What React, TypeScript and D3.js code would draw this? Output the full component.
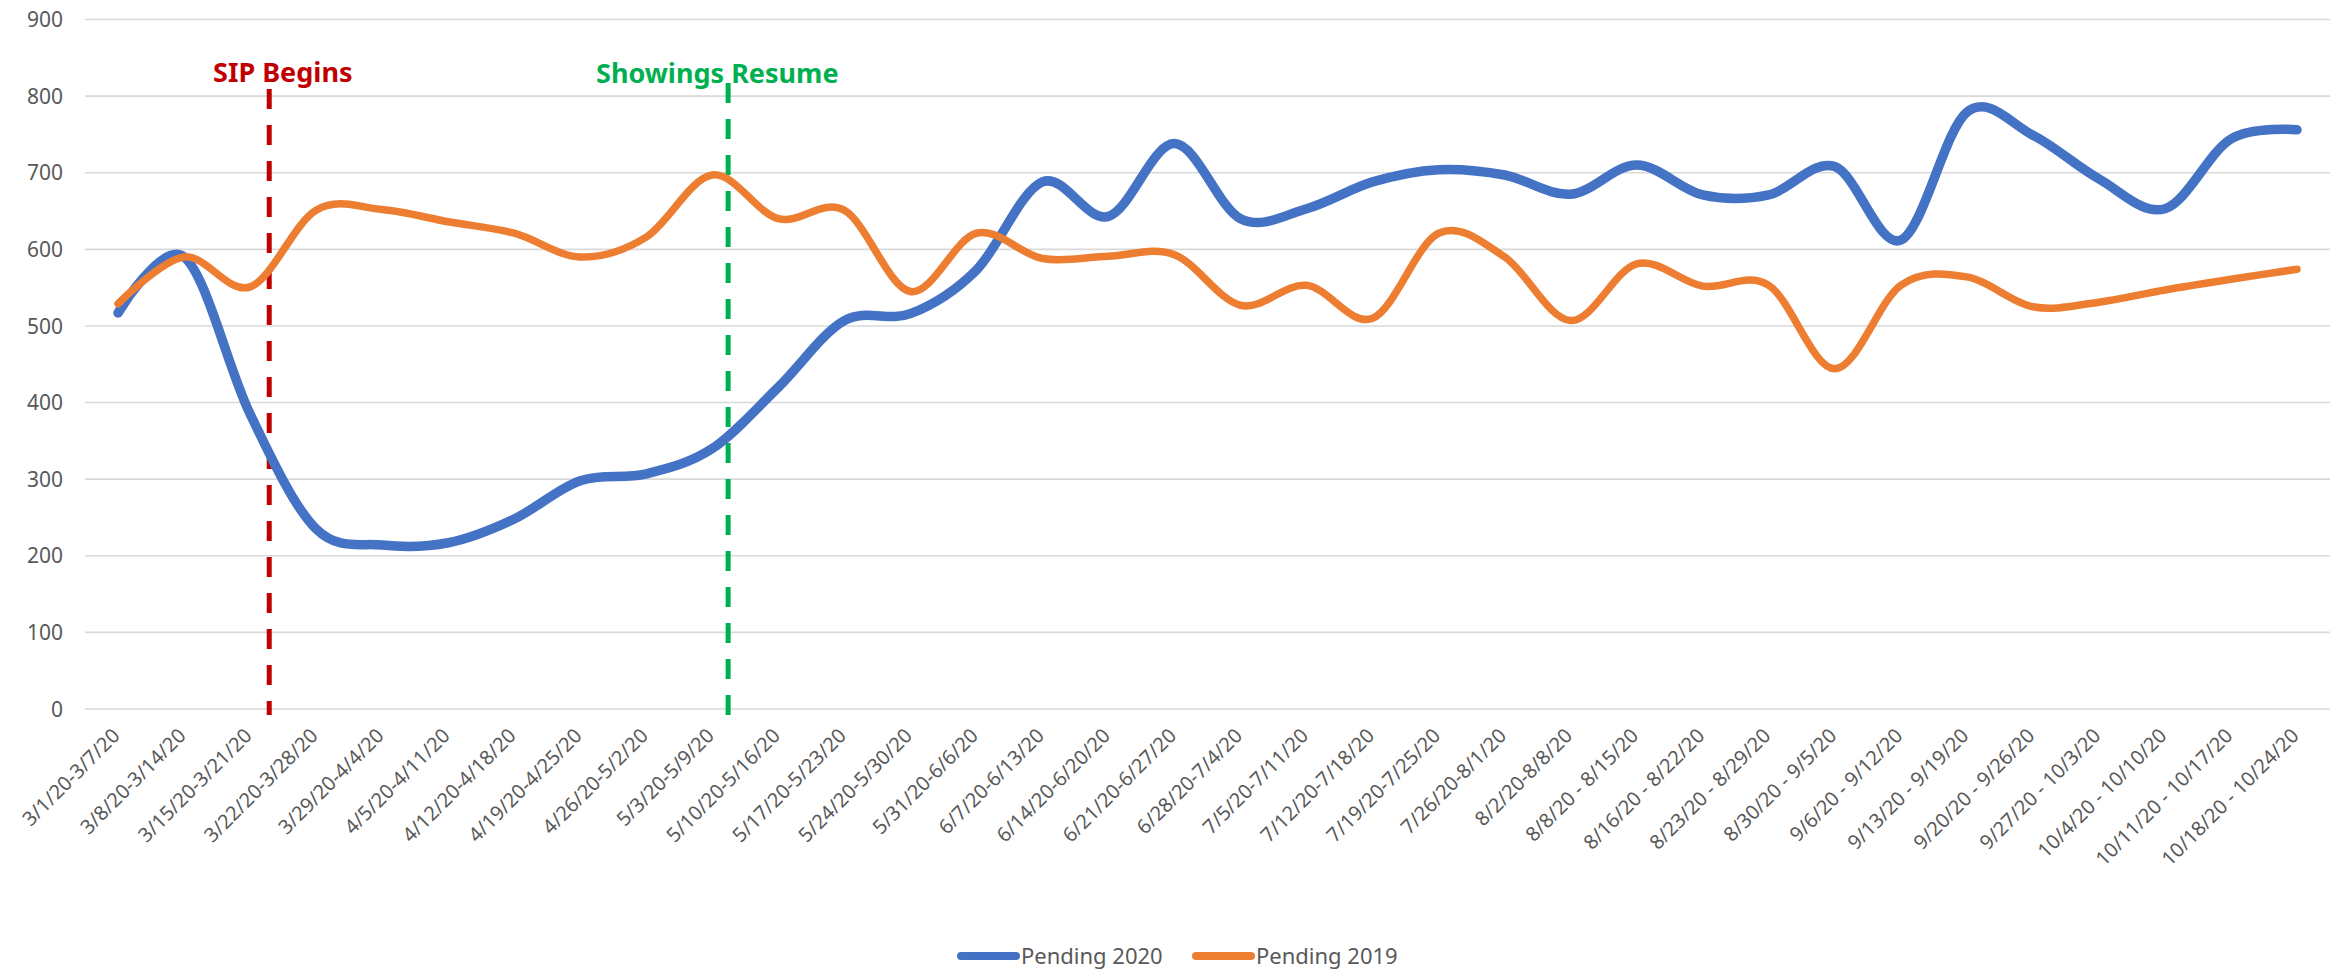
import React from "react";
import * as d3 from "d3";

const categories = [
  "3/1/20-3/7/20", "3/8/20-3/14/20", "3/15/20-3/21/20", "3/22/20-3/28/20",
  "3/29/20-4/4/20", "4/5/20-4/11/20", "4/12/20-4/18/20", "4/19/20-4/25/20",
  "4/26/20-5/2/20", "5/3/20-5/9/20", "5/10/20-5/16/20", "5/17/20-5/23/20",
  "5/24/20-5/30/20", "5/31/20-6/6/20", "6/7/20-6/13/20", "6/14/20-6/20/20",
  "6/21/20-6/27/20", "6/28/20-7/4/20", "7/5/20-7/11/20", "7/12/20-7/18/20",
  "7/19/20-7/25/20", "7/26/20-8/1/20", "8/2/20-8/8/20", "8/8/20 - 8/15/20",
  "8/16/20 - 8/22/20", "8/23/20 - 8/29/20", "8/30/20 - 9/5/20", "9/6/20 - 9/12/20",
  "9/13/20 - 9/19/20", "9/20/20 - 9/26/20", "9/27/20 - 10/3/20", "10/4/20 - 10/10/20",
  "10/11/20 - 10/17/20", "10/18/20 - 10/24/20",
];

const pending2020 = [
  517, 590, 385, 235, 214, 217, 248, 298, 307, 340, 420, 507, 516, 573, 688, 643, 738,
  640, 653, 688, 704, 697, 672, 710, 671, 671, 708, 612, 779, 749, 692, 653, 744, 756,
];

const pending2019 = [
  529, 590, 551, 651, 652, 636, 621, 590, 616, 697, 640, 651, 545, 621, 588, 591, 593,
  527, 553, 510, 621, 590, 507, 581, 552, 553, 444, 553, 564, 525, 531, 547, 561, 574,
];

const yTicks = [0, 100, 200, 300, 400, 500, 600, 700, 800, 900];

const seriesNames = ["Pending 2020", "Pending 2019"];
const seriesColors = ["#4472C4", "#ED7D31"];

// annotation positions in category-index units
const annotationLabels = ["SIP Begins", "Showings Resume"];
const annotationIndex = [2.29, 9.24];
const annotationColors = ["#C00000", "#00B050"];

const W = 2336;
const H = 971;
const FONT = "'Noto Sans', 'DejaVu Sans', sans-serif";

export default function App() {
  const x = d3.scaleLinear().domain([-0.5, categories.length - 0.5]).range([85, 2330]);
  const y = d3.scaleLinear().domain([0, 900]).range([709, 19.5]);

  const line = d3
    .line<number>()
    .x((_, i) => x(i))
    .y((d) => y(d))
    .curve(d3.curveCardinal.tension(0));

  const series = [pending2020, pending2019];
  const widths = [9.5, 7.5];

  const legendX = [961, 1196];

  return (
    <svg
      width={W}
      height={H}
      style={{ position: "absolute", left: 0, top: 0, background: "#fff" }}
      fontFamily={FONT}
    >
      {/* gridlines */}
      {yTicks.map((t) => (
        <g key={t}>
          <line x1={85} x2={2330} y1={y(t)} y2={y(t)} stroke="#D9D9D9" strokeWidth={1.6} />
          <text
            x={63}
            y={y(t)}
            dy="0.36em"
            textAnchor="end"
            fontSize={21}
            fill="#595959"
          >
            {t}
          </text>
        </g>
      ))}

      {/* x labels */}
      {categories.map((c, i) => (
        <text
          key={c}
          transform={`translate(${x(i) + 3},${737}) rotate(-45)`}
          textAnchor="end"
          fontSize={20}
          fill="#595959"
        >
          {c}
        </text>
      ))}

      {/* annotation lines */}
      {annotationLabels.map((a, k) => (
        <g key={a}>
          <line
            x1={x(annotationIndex[k])}
            x2={x(annotationIndex[k])}
            y1={k === 0 ? 89 : 83}
            y2={y(0) + 6}
            stroke={annotationColors[k]}
            strokeWidth={5}
            strokeDasharray="20 16"
          />
        </g>
      ))}

      {/* series */}
      {series.map((s, k) => (
        <path
          key={k}
          d={line(s) || ""}
          fill="none"
          stroke={seriesColors[k]}
          strokeWidth={widths[k]}
          strokeLinecap="round"
          strokeLinejoin="round"
        />
      ))}

      {/* annotation texts */}
      <text x={213} y={82} fontSize={27} fontWeight="bold" fill={annotationColors[0]}>
        {annotationLabels[0]}
      </text>
      <text x={596} y={83} fontSize={27} fontWeight="bold" fill={annotationColors[1]}>
        {annotationLabels[1]}
      </text>

      {/* legend */}
      {seriesNames.map((n, k) => (
        <g key={n}>
          <line
            x1={legendX[k]}
            x2={legendX[k] + 55}
            y1={956}
            y2={956}
            stroke={seriesColors[k]}
            strokeWidth={8}
            strokeLinecap="round"
          />
          <text x={legendX[k] + 60} y={956} dy="0.36em" fontSize={22} fill="#595959">
            {n}
          </text>
        </g>
      ))}
    </svg>
  );
}
